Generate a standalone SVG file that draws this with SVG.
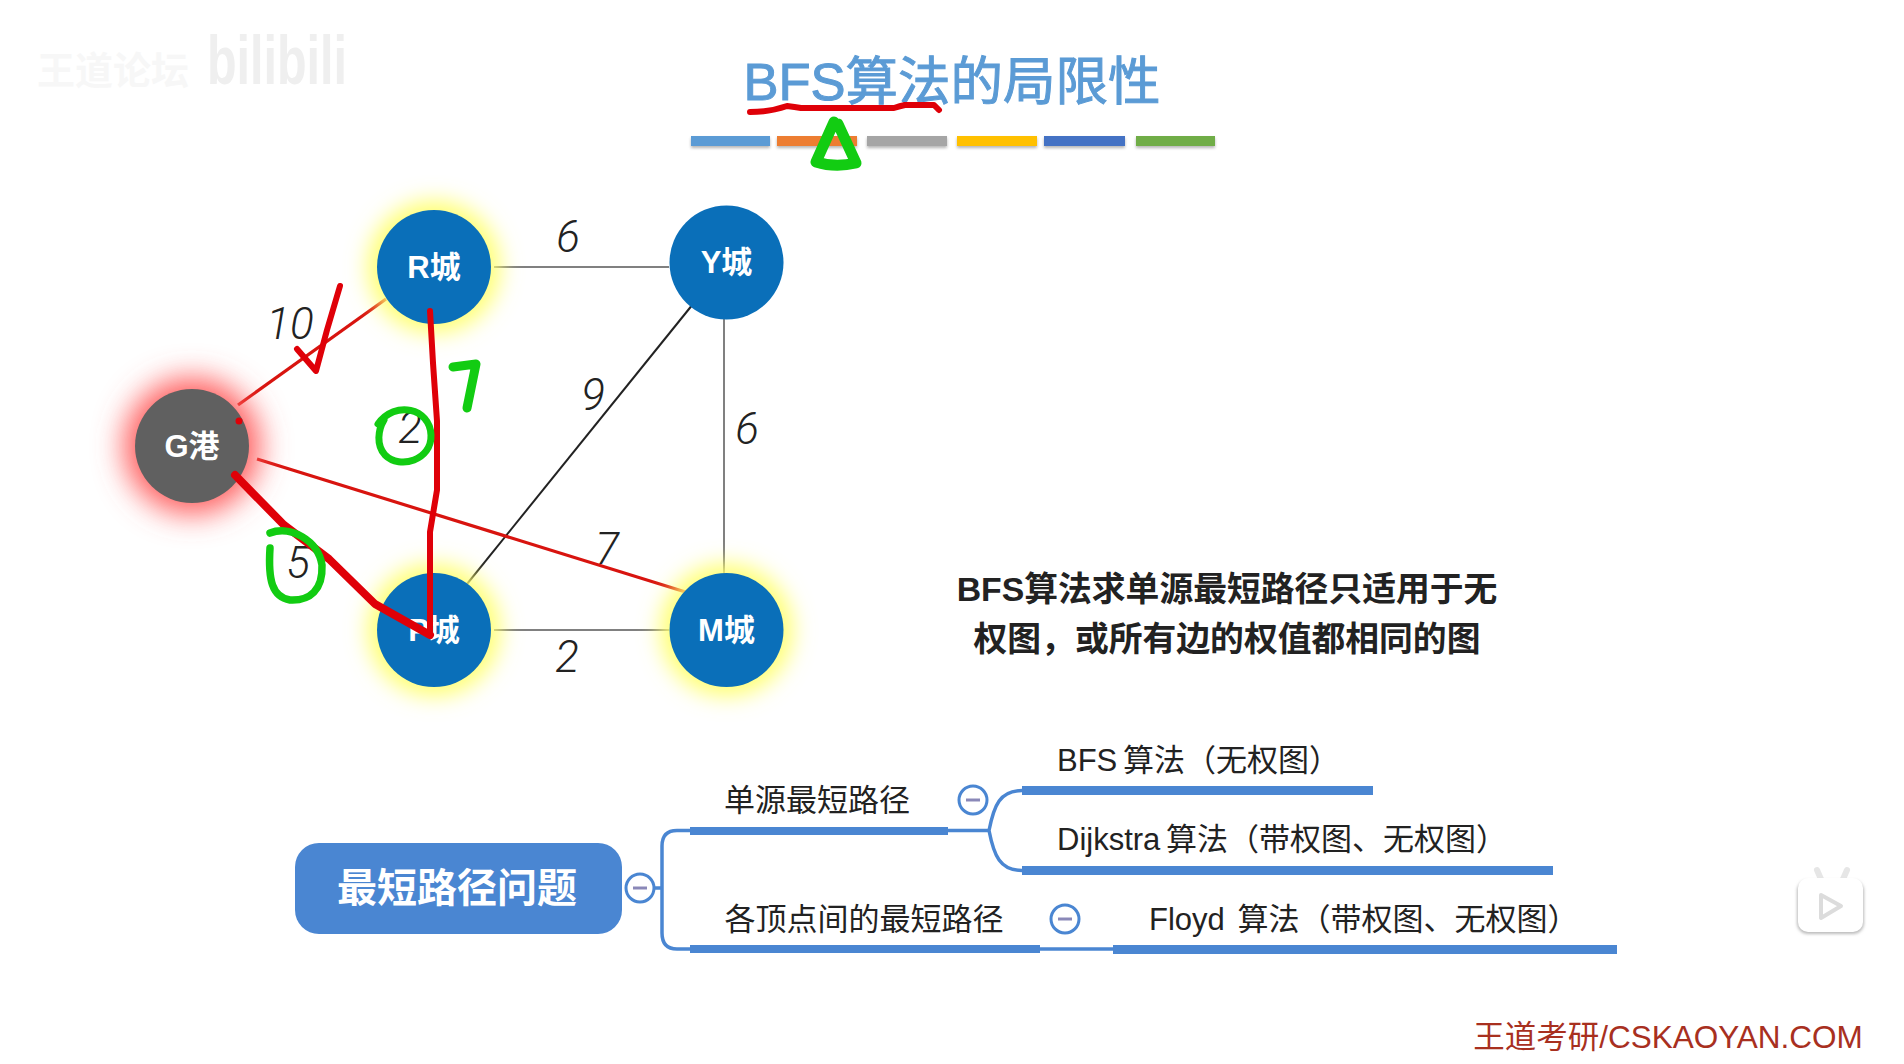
<svg xmlns="http://www.w3.org/2000/svg" width="1904" height="1064" viewBox="0 0 1904 1064">
<style>
text{font-family:"Liberation Sans","Noto Sans CJK SC",sans-serif;text-anchor:middle;dominant-baseline:central}
.n{fill:#fff;font-size:31px;font-weight:700}
.w{fill:#222;font-size:44px;font-style:italic;font-weight:300;font-family:Roboto,"Liberation Sans",sans-serif}
.l{fill:#222;font-size:31px}
.ls{text-anchor:start}
.e{stroke:#808080;stroke-width:2;fill:none}
.r{stroke:#d8140f;stroke-width:3.2;fill:none}
.ink{stroke-linecap:round;stroke-linejoin:round;fill:none}
.red{stroke:#df0008}
.gr{stroke:#12cc12}
.bar{fill:#4a86d2}
.tw{stroke:#4a86d2;stroke-width:3.5;fill:none}
.mc{fill:#fff;stroke:#4a86d2;stroke-width:3}
.mm{stroke:#8a88b8;stroke-width:3}
</style>
<defs>
<filter id="gy" x="-60%" y="-60%" width="220%" height="220%"><feGaussianBlur stdDeviation="11"/></filter>
<filter id="gr" x="-60%" y="-60%" width="220%" height="220%"><feGaussianBlur stdDeviation="15"/></filter>
<filter id="sh" x="-10%" y="-50%" width="120%" height="220%"><feGaussianBlur stdDeviation="1.5"/></filter>
</defs>
<rect width="1904" height="1064" fill="#fff"/>

<g id="watermark">
<text x="113" y="71" style="font-size:38px;font-weight:700;fill:#f7f7f7">王道论坛</text>
<text x="207" y="60" textLength="140" lengthAdjust="spacingAndGlyphs" style="text-anchor:start;font-size:68px;font-weight:700;fill:#efefef">bilibili</text>
</g>

<g id="title">
<text x="952" y="81" style="font-size:52.5px;fill:#5b9bd5;stroke:#5b9bd5;stroke-width:1">BFS算法的局限性</text>
<g filter="url(#sh)" opacity=".55">
<rect x="691" y="138" width="79" height="10" fill="#777"/><rect x="777" y="138" width="80" height="10" fill="#777"/><rect x="867" y="138" width="80" height="10" fill="#777"/><rect x="957" y="138" width="80" height="10" fill="#777"/><rect x="1044" y="138" width="81" height="10" fill="#777"/><rect x="1136" y="138" width="79" height="10" fill="#777"/>
</g>
<rect x="691" y="136" width="79" height="10" fill="#5b9bd5"/>
<rect x="777" y="136" width="80" height="10" fill="#ed7d31"/>
<rect x="867" y="136" width="80" height="10" fill="#a5a5a5"/>
<rect x="957" y="136" width="80" height="10" fill="#ffc000"/>
<rect x="1044" y="136" width="81" height="10" fill="#4472c4"/>
<rect x="1136" y="136" width="79" height="10" fill="#70ad47"/>
</g>

<g id="connectors">
<line class="e" x1="494" y1="267" x2="669" y2="267"/>
<line class="e" x1="724" y1="318" x2="724" y2="575"/>
<line class="e" x1="494" y1="630" x2="669" y2="630"/>
<line x1="693" y1="304" x2="463" y2="589" stroke="#222" stroke-width="2"/>
<line class="r" x1="238" y1="405" x2="386" y2="299"/>
<line class="r" x1="257" y1="459" x2="692" y2="594"/>
</g>

<g id="node-R"><circle cx="434" cy="267" r="66" fill="#ffff70" filter="url(#gy)"/><circle cx="434" cy="267" r="57" fill="#0a6fb9"/><text class="n" x="434" y="267">R城</text></g>
<g id="node-Y"><circle cx="726.5" cy="262.5" r="57" fill="#0a6fb9"/><text class="n" x="726.5" y="262.5">Y城</text></g>
<g id="node-G"><circle cx="192" cy="446" r="68" fill="#ff5c5c" filter="url(#gr)"/><circle cx="192" cy="446" r="57" fill="#606060"/><text class="n" x="192" y="446">G港</text></g>
<g id="node-P"><circle cx="434" cy="630" r="66" fill="#ffff70" filter="url(#gy)"/><circle cx="434" cy="630" r="57" fill="#0a6fb9"/><text class="n" x="434" y="630">P城</text></g>
<g id="node-M"><circle cx="726.5" cy="630" r="66" fill="#ffff70" filter="url(#gy)"/><circle cx="726.5" cy="630" r="57" fill="#0a6fb9"/><text class="n" x="726.5" y="630">M城</text></g>

<g id="weights">
<text class="w" x="568" y="237">6</text>
<text class="w" x="290" y="324">10</text>
<text class="w" x="410" y="428">2</text>
<text class="w" x="593" y="395">9</text>
<text class="w" x="747" y="429">6</text>
<text class="w" x="298" y="563">5</text>
<text class="w" x="607" y="549">7</text>
<text class="w" x="567" y="657">2</text>
</g>

<g id="note">
<text x="1227" y="589" style="font-size:33.8px;font-weight:700;fill:#222">BFS算法求单源最短路径只适用于无</text>
<text x="1227" y="639" style="font-size:33.8px;font-weight:700;fill:#222">权图&#xFF0C;或所有边的权值都相同的图</text>
</g>

<g id="tree-lines">
<path class="tw" d="M654 888H662M690 830.5H677Q662 830.5 662 846V933Q662 949 677 949H690"/>
<path class="tw" d="M948 830.5H989M1022 790.5C1000 790.5 994 805 989 830.5C994 856 1000 870.5 1022 870.5"/>
<path class="tw" d="M1040 949H1113"/>
</g>

<g id="root"><rect x="295" y="843" width="327" height="91" rx="24" class="bar"/><text x="457" y="888" style="font-size:40px;font-weight:700;fill:#fff">最短路径问题</text></g>
<g id="toggle-root"><circle class="mc" cx="640" cy="888" r="14"/><line class="mm" x1="633" y1="888" x2="647" y2="888"/></g>
<g id="branch-single"><text class="l" x="817" y="800">单源最短路径</text><rect class="bar" x="690" y="827" width="258" height="8"/></g>
<g id="toggle-single"><circle class="mc" cx="973" cy="800" r="14"/><line class="mm" x1="966" y1="800" x2="980" y2="800"/></g>
<g id="branch-all"><text class="l" x="864" y="919">各顶点间的最短路径</text><rect class="bar" x="690" y="945" width="350" height="8"/></g>
<g id="toggle-all"><circle class="mc" cx="1065" cy="919" r="14"/><line class="mm" x1="1058" y1="919" x2="1072" y2="919"/></g>
<g id="leaf-bfs"><text class="l ls" x="1057" y="760" word-spacing="-3">BFS 算法&#xFF08;无权图&#xFF09;</text><rect class="bar" x="1022" y="786" width="351" height="9"/></g>
<g id="leaf-dijkstra"><text class="l ls" x="1057" y="839" word-spacing="-3">Dijkstra 算法&#xFF08;带权图、无权图&#xFF09;</text><rect class="bar" x="1022" y="866" width="531" height="9"/></g>
<g id="leaf-floyd"><text class="l ls" x="1149" y="919" word-spacing="4">Floyd 算法&#xFF08;带权图、无权图&#xFF09;</text><rect class="bar" x="1113" y="945" width="504" height="9"/></g>

<g id="brand"><text x="1668" y="1037" style="font-size:31.5px;fill:#a8301f">王道考研/CSKAOYAN.COM</text></g>

<g id="play-icon">
<path d="M1817 870l7 16M1847 870l-7 16" stroke="#e6e6e6" stroke-width="6" fill="none" stroke-linecap="round"/>
<rect x="1797" y="880" width="67" height="54" rx="11" fill="#bbb" filter="url(#sh)"/>
<rect x="1798" y="878" width="65" height="54" rx="10" fill="#fff"/>
<path d="M1821 895L1841 906L1821 918Z" fill="#fff" stroke="#dcdcdc" stroke-width="4" stroke-linejoin="round"/>
</g>

<g id="ink">
<path class="ink red" stroke-width="6" d="M750 112Q770 112 787 106Q795 107 801 108H894Q900 106 905 105H934L939 110"/>
<path class="ink gr" stroke-width="11" d="M834 122L816 162Q835 168 856 163L838 124"/>
<path class="ink red" stroke-width="6" d="M340 286L327 330L316 371L297 349"/>
<path class="ink red" stroke-width="6" d="M430 311L433 363L437 421L437 490L430 532L430 635"/>
<path class="ink red" stroke-width="8" d="M235 475L284 525L329 559L375 604L430 635"/>
<circle cx="239" cy="421" r="3.5" fill="#df0008"/>
<path class="ink gr" stroke-width="9" d="M453 367L476 364L467 408"/>
<path class="ink gr" stroke-width="7" d="M378 424C395 400 430 408 431 435C432 460 400 470 385 455C376 445 378 430 384 420"/>
<path class="ink gr" stroke-width="7.5" d="M270 533C290 525 318 540 322 565C323 590 310 601 290 600C272 597 268 580 270 548"/>
</g>
</svg>
